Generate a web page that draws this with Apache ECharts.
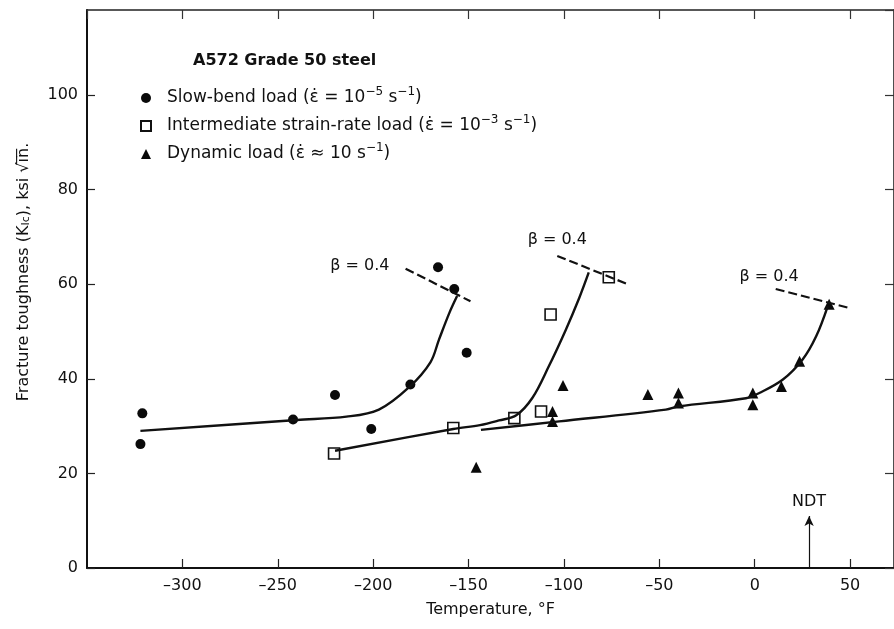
<!DOCTYPE html>
<html>
<head>
<meta charset="utf-8">
<title>A572 Grade 50 steel</title>
<script src="https://cdn.jsdelivr.net/npm/echarts@6/dist/echarts.min.js"></script>
<style>
  html, body { margin: 0; padding: 0; background: #fff; }
  #chart { width: 894px; height: 629px; }
</style>
</head>
<body>
<div id="chart"></div>
<script>
// test points: [temperature °F, K_Ic ksi sqrt(in.)]
var slowBend = [[-321, 32.7], [-322, 26.2], [-242, 31.4], [-220, 36.6], [-201, 29.4], [-180.5, 38.8], [-166, 63.6], [-157.5, 59], [-151, 45.5]];
var intermediate = [[-220.5, 24.2], [-158, 29.6], [-126, 31.7], [-112, 33.1], [-107, 53.6], [-76.5, 61.5]];
var dynamic = [[-146, 21.3], [-106, 33.1], [-106, 31.0], [-100.5, 38.6], [-56, 36.7], [-40, 37], [-40, 34.9], [-1, 37], [-1, 34.5], [14, 38.4], [23.5, 43.7], [39, 55.8]];

// hand drawn trend curves
var slowCurve = [[-322, 29], [-240, 31.3], [-214, 32], [-197, 33.5], [-181, 38.3], [-170, 43.5], [-165.5, 48.3], [-160, 54], [-156, 57.5]];
var interCurve = [[-220, 24.8], [-158, 29.4], [-144, 30.2], [-134, 31.2], [-125, 32.3], [-116.5, 36], [-108, 42.6], [-99, 50.4], [-92, 57.1], [-87, 62.5]];
var dynCurve = [[-143.5, 29.2], [-102.5, 31], [-46.6, 33.5], [-39.6, 34.2], [-4.6, 35.9], [2.4, 37], [14.6, 39.8], [25.1, 44.1], [32.2, 49], [38.3, 55.4]];

// beta = 0.4 dashed limits and their labels
var slowBeta = [[-183, 63.3], [-149, 56.4]];
var interBeta = [[-103.5, 66], [-66.5, 60]];
var dynBeta = [[11, 59], [49.5, 55]];
var betaLabels = [[-207, 64], [-103.5, 69.3], [7.5, 61.5]];

var ndtArrow = [[28.5, 0], [28.5, 11]];

var seriesNames = ['Slow-bend load', 'Intermediate strain-rate load', 'Dynamic load'];
var rateLabels = [
  '(\u03b5\u0307 = 10{sup|\u22125} s{sup|\u22121})',
  '(\u03b5\u0307 = 10{sup|\u22123} s{sup|\u22121})',
  '(\u03b5\u0307 \u2248 10 s{sup|\u22121})'
];

var font = 'DejaVu Sans';
var ink = '#111';

var chart = echarts.init(document.getElementById('chart'));

function curve(data, dashed) {
  return {
    type: 'line',
    data: data,
    smooth: dashed ? false : 0.35,
    showSymbol: false,
    symbol: 'none',
    silent: true,
    lineStyle: {
      color: '#111',
      width: dashed ? 2.2 : 2.4,
      type: dashed ? [9, 4] : 'solid'
    }
  };
}

var dynLine = curve(dynCurve, false);
dynLine.markLine = {
  silent: true,
  symbol: ['none', 'arrow'],
  symbolSize: [7, 10],
  lineStyle: { color: '#111', width: 1.2, type: 'solid' },
  label: {
    show: true,
    position: 'end',
    formatter: 'NDT',
    distance: 6,
    color: ink,
    fontFamily: font,
    fontSize: 16
  },
  data: [[{ coord: ndtArrow[0] }, { coord: ndtArrow[1] }]]
};

function frameAxis(pos) {
  return {
    type: 'value',
    position: pos,
    axisLine: { show: true, onZero: false, lineStyle: { color: '#222', width: 1.6 } },
    axisTick: { show: true, inside: true, length: 9, lineStyle: { color: '#333', width: 1.2 } },
    axisLabel: { show: false },
    splitLine: { show: false }
  };
}

var xTop = frameAxis('top');
xTop.min = -350; xTop.max = 73; xTop.interval = 50;
var yRight = frameAxis('right');
yRight.min = 0; yRight.max = 118; yRight.interval = 20;

chart.setOption({
  animation: false,
  backgroundColor: '#fff',
  title: {
    text: 'A572 Grade 50 steel',
    left: 193,
    top: 53,
    padding: 0,
    textStyle: { fontFamily: font, fontSize: 16, fontWeight: 'bold', color: ink }
  },
  legend: {
    data: seriesNames,
    orient: 'vertical',
    left: 140,
    top: 86,
    itemWidth: 10,
    itemHeight: 10,
    itemGap: 4,
    selectedMode: false,
    padding: 0,
    formatter: function (name) {
      return name + ' ' + rateLabels[seriesNames.indexOf(name)];
    },
    textStyle: {
      fontFamily: font,
      fontSize: 17,
      color: ink,
      lineHeight: 24,
      padding: [0, 0, 0, 11],
      rich: {
        sup: { fontFamily: font, fontSize: 12, color: ink, lineHeight: 13, verticalAlign: 'top' }
      }
    }
  },
  grid: { left: 87, right: 0, top: 10, bottom: 61 },
  xAxis: [{
    type: 'value',
    min: -350,
    max: 73,
    interval: 50,
    name: 'Temperature, \u00b0F',
    nameLocation: 'middle',
    nameGap: 34,
    nameTextStyle: { fontFamily: font, fontSize: 16, color: ink },
    axisLine: { onZero: false, lineStyle: { color: '#111', width: 2 } },
    axisTick: { inside: true, length: 9, lineStyle: { color: '#222', width: 1.2 } },
    axisLabel: {
      showMinLabel: false,
      showMaxLabel: false,
      margin: 10,
      fontFamily: font,
      fontSize: 16,
      color: ink,
      formatter: function (v) { return String(v).replace('-', '\u2013'); }
    },
    splitLine: { show: false }
  }, xTop],
  yAxis: [{
    type: 'value',
    min: 0,
    max: 118,
    interval: 20,
    name: 'Fracture toughness (K{sub|Ic}), ksi \u221ai\u0305n\u0305.',
    nameLocation: 'middle',
    nameGap: 55,
    nameTextStyle: {
      fontFamily: font,
      fontSize: 16,
      color: ink,
      padding: [0, 0, 0, 34],
      rich: { sub: { fontFamily: font, fontSize: 11, color: ink, verticalAlign: 'bottom', padding: [6, 0, 0, 0] } }
    },
    axisLine: { onZero: false, lineStyle: { color: '#111', width: 2 } },
    axisTick: { inside: true, length: 8, lineStyle: { color: '#222', width: 1.2 } },
    axisLabel: { showMaxLabel: false, margin: 9, fontFamily: font, fontSize: 16, color: ink },
    splitLine: { show: false }
  }, yRight],
  series: [
    curve(slowCurve, false),
    curve(interCurve, false),
    dynLine,
    curve(slowBeta, true),
    curve(interBeta, true),
    curve(dynBeta, true),
    {
      type: 'scatter',
      data: betaLabels,
      symbolSize: 1,
      silent: true,
      itemStyle: { color: 'rgba(0,0,0,0)', opacity: 1 },
      label: {
        show: true,
        position: 'inside',
        formatter: '\u03b2 = 0.4',
        fontFamily: font,
        fontSize: 16,
        color: ink
      }
    },
    {
      name: seriesNames[0],
      type: 'scatter',
      data: slowBend,
      symbol: 'circle',
      symbolSize: 10,
      itemStyle: { color: '#0a0a0a', opacity: 1 }
    },
    {
      name: seriesNames[1],
      type: 'scatter',
      data: intermediate,
      symbol: 'rect',
      symbolSize: 11,
      itemStyle: { color: '#fff', borderColor: '#111', borderWidth: 1.6, opacity: 1 }
    },
    {
      name: seriesNames[2],
      type: 'scatter',
      data: dynamic,
      symbol: 'triangle',
      symbolSize: 11,
      itemStyle: { color: '#0a0a0a', opacity: 1 }
    }
  ]
});
</script>
</body>
</html>
